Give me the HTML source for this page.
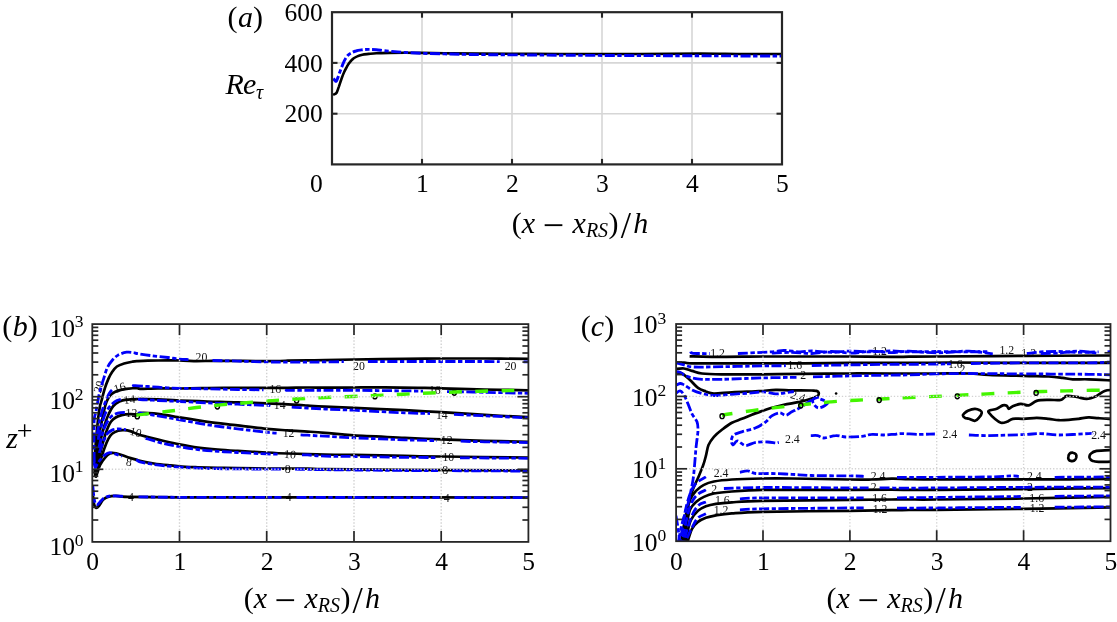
<!DOCTYPE html>
<html lang="en"><head><meta charset="utf-8"><title>Figure</title>
<style>
html,body{margin:0;padding:0;background:#fff}
svg{display:block}
text{font-family:"Liberation Serif",serif;fill:#000}
.tk{font-size:25.5px}
.lb{font-size:30px;font-style:italic}
.rm{font-style:normal}
.sub{font-size:20px}
.mn{font-size:38px}
.sl{font-size:37px}
.sup{font-size:17.5px}
.pl{font-size:28px}
.cl{font-size:11.8px;fill:#111}
.ga{stroke:#d6d6d6;stroke-width:1.6;fill:none}
.gd{stroke:#d2d2d2;stroke-width:1.4;stroke-dasharray:1.3 1.95;fill:none}
.ax{stroke:#262626;stroke-width:2.1;fill:none}
.ax2{stroke:#262626;stroke-width:1.7;fill:none}
.boxa{stroke:#262626;stroke-width:2.2;fill:none}
.boxb{stroke:#262626;stroke-width:1.8;fill:none}
.ka{stroke:#000;stroke-width:2.6;fill:none;stroke-linejoin:round;stroke-linecap:round}
.ba{stroke:#0000fa;stroke-width:2.9;fill:none;stroke-dasharray:10 2.5 4.4 2.5;stroke-linejoin:round}
.kb{stroke:#000;stroke-width:2.7;fill:none;stroke-linejoin:round}
.bb{stroke:#0000fa;stroke-width:2.8;fill:none;stroke-dasharray:10 2.5 4.4 2.5;stroke-linejoin:round}
.bd{stroke:#0000fa;stroke-width:2.8;fill:none;stroke-dasharray:8.5 3.2;stroke-linejoin:round}
.gr{stroke:#44f500;stroke-width:3.4;fill:none;stroke-dasharray:12.85 13.3}
.mk{stroke:#000;stroke-width:1.4;fill:none}
</style></head>
<body>
<svg width="1117" height="622" viewBox="0 0 1117 622">
<rect width="1117" height="622" fill="#fff"/>
<g id="pa">
<line class="ga" x1="422.0" y1="12.2" x2="422.0" y2="164.4"/>
<line class="ga" x1="512.0" y1="12.2" x2="512.0" y2="164.4"/>
<line class="ga" x1="602.0" y1="12.2" x2="602.0" y2="164.4"/>
<line class="ga" x1="692.0" y1="12.2" x2="692.0" y2="164.4"/>
<line class="ga" x1="332.0" y1="113.7" x2="782.0" y2="113.7"/>
<line class="ga" x1="332.0" y1="62.9" x2="782.0" y2="62.9"/>
<path class="ka" d="M334.0 94.3C334.4 94.1 335.8 94.1 336.6 92.8C337.4 91.5 338.0 89.0 338.9 86.6C339.7 84.2 340.8 80.7 341.7 78.2C342.6 75.8 343.4 73.7 344.3 71.8C345.2 69.9 345.9 68.3 346.9 66.7C347.8 65.0 349.0 63.2 350.1 61.9C351.2 60.5 352.1 59.5 353.3 58.6C354.5 57.6 355.7 57.0 357.2 56.4C358.7 55.7 360.4 55.2 362.3 54.8C364.2 54.4 366.4 54.2 368.7 53.9C371.1 53.7 373.0 53.5 376.4 53.3C379.9 53.1 384.6 53.0 389.3 52.9C394.0 52.8 399.4 52.8 404.7 52.8C410.1 52.8 414.8 52.8 421.5 52.9C428.1 53.0 434.9 53.2 444.6 53.3C454.4 53.4 460.8 53.5 480.0 53.6C499.2 53.7 533.3 53.9 560.0 54.0C586.7 54.1 616.7 54.1 640.0 54.0C663.3 53.9 683.3 53.6 700.0 53.6C716.7 53.6 726.5 53.9 740.0 54.0C753.5 54.1 774.2 54.0 781.0 54.0"/>
<path class="ba" d="M333.5 78.4C333.7 78.7 334.3 79.9 334.8 80.4C335.2 80.9 335.8 81.7 336.3 81.2C336.8 80.7 337.2 79.4 337.9 77.6C338.5 75.8 339.4 73.3 340.4 70.5C341.5 67.7 343.1 63.3 344.3 60.9C345.5 58.4 346.4 57.0 347.5 55.7C348.6 54.4 349.3 53.9 350.7 53.2C352.1 52.4 353.9 51.5 355.9 51.0C357.8 50.4 360.2 50.1 362.3 49.8C364.4 49.5 366.4 49.4 368.7 49.4C371.1 49.4 373.9 49.6 376.4 49.8C379.0 50.0 381.2 50.4 384.2 50.7C387.2 51.0 391.0 51.3 394.5 51.6C397.9 51.9 400.2 52.1 404.7 52.4C409.2 52.7 414.8 53.0 421.5 53.3C428.1 53.5 434.9 53.7 444.6 53.9C454.4 54.1 460.8 54.4 480.0 54.6C499.2 54.8 533.3 55.0 560.0 55.2C586.7 55.4 616.7 55.5 640.0 55.6C663.3 55.7 676.5 55.7 700.0 55.8C723.5 55.9 767.5 56.0 781.0 56.0"/>
<line class="ax" x1="422.0" y1="164.4" x2="422.0" y2="158.9"/>
<line class="ax" x1="422.0" y1="12.2" x2="422.0" y2="17.7"/>
<line class="ax" x1="512.0" y1="164.4" x2="512.0" y2="158.9"/>
<line class="ax" x1="512.0" y1="12.2" x2="512.0" y2="17.7"/>
<line class="ax" x1="602.0" y1="164.4" x2="602.0" y2="158.9"/>
<line class="ax" x1="602.0" y1="12.2" x2="602.0" y2="17.7"/>
<line class="ax" x1="692.0" y1="164.4" x2="692.0" y2="158.9"/>
<line class="ax" x1="692.0" y1="12.2" x2="692.0" y2="17.7"/>
<line class="ax" x1="332.0" y1="113.7" x2="337.5" y2="113.7"/>
<line class="ax" x1="782.0" y1="113.7" x2="776.5" y2="113.7"/>
<line class="ax" x1="332.0" y1="62.9" x2="337.5" y2="62.9"/>
<line class="ax" x1="782.0" y1="62.9" x2="776.5" y2="62.9"/>
<rect class="boxa" x="332.0" y="12.2" width="450.0" height="152.2"/>
<text class="tk" text-anchor="end" x="322.8" y="20.8">600</text>
<text class="tk" text-anchor="end" x="322.8" y="71.5">400</text>
<text class="tk" text-anchor="end" x="322.8" y="122.3">200</text>
<text class="tk" text-anchor="middle" x="316.4" y="191.8">0</text>
<text class="tk" text-anchor="middle" x="422.3" y="191.8">1</text>
<text class="tk" text-anchor="middle" x="512.3" y="191.8">2</text>
<text class="tk" text-anchor="middle" x="602.3" y="191.8">3</text>
<text class="tk" text-anchor="middle" x="692.3" y="191.8">4</text>
<text class="tk" text-anchor="middle" x="782.3" y="191.8">5</text>
</g>
<text class="lb" y="232.8"><tspan class="rm" x="511.8">(</tspan><tspan x="521.8">x</tspan><tspan x="572.6">x</tspan><tspan class="sub" x="585.9" dy="4.2">RS</tspan><tspan class="rm" x="608.5" dy="-4.2">)</tspan><tspan x="633.2">h</tspan></text>
<text class="mn" x="542.7" y="237.7">−</text>
<text class="sl" x="620.7" y="238.0">/</text>
<text class="lb" y="26.7"><tspan class="rm" x="227.6">(</tspan><tspan x="238.1">a</tspan><tspan class="rm" x="253.1">)</tspan></text>
<text class="lb" x="225.5" y="94"><tspan>R</tspan><tspan dx="-0.8">e</tspan><tspan class="sub" dy="4.6" dx="-0.3">τ</tspan></text>
<g id="pb">
<clipPath id="cb"><rect x="92.3" y="324.1" width="436.1" height="217.8"/></clipPath>
<text class="cl" text-anchor="middle" x="201.4" y="361.1">20</text>
<text class="cl" text-anchor="middle" transform="translate(99.4 387.1) rotate(-72)" y="3.2">20</text>
<text class="cl" text-anchor="middle" transform="translate(119.9 388.3) rotate(-18)" y="3.2">16</text>
<text class="cl" text-anchor="middle" transform="translate(129.5 400.3) rotate(-8)" y="3.2">14</text>
<text class="cl" text-anchor="middle" x="131.5" y="417.0">12</text>
<text class="cl" text-anchor="middle" x="275.3" y="392.7">16</text>
<text class="cl" text-anchor="middle" x="279.7" y="409.4">14</text>
<text class="cl" text-anchor="middle" x="288.6" y="437.0">12</text>
<text class="cl" text-anchor="middle" transform="translate(135.5 432.8) rotate(14)" y="3.2">10</text>
<text class="cl" text-anchor="middle" transform="translate(128.9 462.7) rotate(8)" y="3.2">8</text>
<text class="cl" text-anchor="middle" x="130.9" y="500.7">4</text>
<text class="cl" text-anchor="middle" transform="translate(290.0 455.1) rotate(5)" y="3.2">10</text>
<text class="cl" text-anchor="middle" x="287.6" y="473.3">8</text>
<text class="cl" text-anchor="middle" x="288.6" y="501.1">4</text>
<text class="cl" text-anchor="middle" x="358.9" y="370.3">20</text>
<text class="cl" text-anchor="middle" x="510.6" y="370.3">20</text>
<text class="cl" text-anchor="middle" x="434.8" y="393.5">16</text>
<text class="cl" text-anchor="middle" x="441.8" y="418.6">14</text>
<text class="cl" text-anchor="middle" x="446.7" y="443.8">12</text>
<text class="cl" text-anchor="middle" x="448.3" y="460.9">10</text>
<text class="cl" text-anchor="middle" x="445.3" y="474.3">8</text>
<text class="cl" text-anchor="middle" x="446.7" y="501.7">4</text>
<g clip-path="url(#cb)">
<path class="kb" d="M95.4 477.0C95.6 476.1 96.3 475.3 96.3 471.5C96.3 467.7 95.2 460.1 95.2 454.2C95.2 448.3 95.9 442.1 96.4 436.1C96.9 430.1 97.6 423.1 98.2 418.1C98.8 413.1 99.5 408.8 100.0 406.0C100.5 403.2 100.5 404.5 101.3 401.5C102.1 398.5 103.7 392.0 104.9 388.2C106.1 384.4 107.3 381.3 108.5 378.6C109.7 375.9 110.7 373.9 112.1 371.9C113.5 369.9 114.9 367.9 116.9 366.5C118.9 365.1 121.5 364.3 124.1 363.5C126.7 362.7 130.3 362.1 132.6 361.7C134.9 361.3 135.5 361.3 138.0 361.1C140.5 360.9 142.9 360.9 147.9 360.7C152.9 360.6 162.6 360.4 167.9 360.3C173.1 360.3 175.1 360.4 179.4 360.5C183.8 360.7 188.4 361.1 193.8 361.1C199.2 361.2 204.5 361.0 211.8 360.9C219.1 360.9 228.6 360.9 237.7 360.9C246.9 361.0 258.4 361.2 266.7 361.1C275.0 361.1 280.8 360.9 287.6 360.7C294.5 360.6 301.4 360.4 307.6 360.3C313.8 360.2 317.2 360.3 325.0 360.1C332.7 360.0 340.6 359.7 353.9 359.5C367.2 359.3 390.3 359.1 404.8 358.9C419.4 358.8 427.8 358.6 441.2 358.5C454.5 358.5 470.2 358.5 484.7 358.5C499.2 358.6 520.8 358.9 528.0 358.9"/>
<path class="kb" d="M95.4 477.0C95.6 476.1 96.2 474.3 96.3 471.5C96.4 468.7 95.6 464.5 95.8 460.2C96.0 455.9 96.9 450.8 97.6 445.8C98.3 440.8 99.2 434.7 100.0 430.1C100.8 425.5 101.6 422.2 102.5 418.1C103.4 414.1 104.2 409.2 105.2 405.8C106.2 402.4 107.3 399.8 108.5 397.8C109.7 395.8 110.5 394.8 112.1 393.6C113.7 392.4 115.7 391.4 118.1 390.6C120.5 389.8 123.3 389.2 126.6 388.8C129.9 388.4 135.8 388.0 138.0 388.0C140.2 388.0 136.6 388.8 139.9 388.9C143.2 389.0 151.3 388.5 157.9 388.5C164.5 388.4 171.1 388.5 179.4 388.5C187.8 388.4 198.1 388.2 207.8 388.1C217.5 388.0 227.9 387.9 237.7 387.9C247.5 387.8 258.4 387.9 266.7 387.9C275.0 387.9 280.8 387.9 287.6 387.9C294.5 387.8 301.4 387.5 307.6 387.5C313.8 387.4 317.2 387.7 325.0 387.7C332.7 387.7 343.9 387.5 353.9 387.5C363.9 387.4 373.0 387.2 384.9 387.3C396.7 387.3 415.4 387.7 424.8 387.9C434.2 388.0 431.2 388.0 441.2 388.3C451.1 388.5 470.2 389.1 484.7 389.5C499.2 389.8 520.8 390.1 528.0 390.3"/>
<path class="kb" d="M95.4 477.0C95.6 476.1 96.1 473.5 96.3 471.5C96.5 469.5 96.4 468.6 96.8 465.1C97.2 461.6 98.0 455.2 98.8 450.6C99.5 446.0 100.3 441.7 101.3 437.3C102.3 432.9 103.7 427.9 104.9 424.1C106.1 420.3 107.1 417.5 108.5 414.5C109.9 411.5 111.5 408.1 113.3 406.0C115.1 403.9 117.1 402.7 119.3 401.6C121.5 400.5 123.5 400.0 126.6 399.6C129.7 399.2 134.5 399.1 138.0 399.0C141.5 398.9 142.9 398.9 147.9 399.1C152.9 399.2 162.6 399.6 167.9 399.9C173.1 400.1 172.8 400.2 179.4 400.5C186.1 400.7 198.1 401.2 207.8 401.5C217.5 401.8 227.9 401.9 237.7 402.3C247.5 402.6 256.7 403.0 266.7 403.4C276.7 403.9 290.8 404.5 297.6 404.8C304.4 405.2 303.0 405.3 307.6 405.6C312.2 405.9 317.2 406.3 325.0 406.6C332.7 407.0 340.6 407.2 353.9 407.8C367.2 408.4 390.3 409.5 404.8 410.2C419.4 411.0 427.8 411.5 441.2 412.2C454.5 413.0 470.2 414.0 484.7 414.8C499.2 415.7 520.8 416.8 528.0 417.2"/>
<path class="kb" d="M95.4 477.0C95.6 476.1 96.0 473.0 96.3 471.5C96.6 470.0 96.6 470.9 97.2 468.0C97.8 465.1 98.9 458.9 100.0 454.2C101.1 449.5 102.5 444.0 103.7 439.8C104.9 435.6 106.1 431.9 107.3 428.9C108.5 425.9 109.5 423.6 110.9 421.7C112.3 419.8 113.9 418.6 115.7 417.5C117.5 416.4 119.3 415.7 121.7 415.1C124.1 414.6 127.5 414.3 130.2 414.2C132.9 414.1 136.4 414.7 138.0 414.5C139.6 414.3 137.3 413.2 139.9 413.0C142.6 412.9 149.2 413.0 153.9 413.4C158.5 413.8 163.6 414.8 167.9 415.4C172.1 416.1 172.8 416.4 179.4 417.4C186.1 418.5 198.1 420.5 207.8 421.8C217.5 423.1 227.9 424.2 237.7 425.4C247.5 426.6 258.4 428.0 266.7 428.8C275.0 429.6 280.8 429.9 287.6 430.4C294.5 430.9 301.4 431.2 307.6 431.6C313.8 432.0 317.2 432.2 325.0 432.8C332.7 433.4 340.6 434.6 353.9 435.4C367.2 436.2 390.3 437.1 404.8 437.8C419.4 438.5 427.8 438.9 441.2 439.4C454.5 439.9 470.2 440.4 484.7 440.8C499.2 441.2 520.8 441.6 528.0 441.8"/>
<path class="kb" d="M95.4 477.0C95.6 476.1 95.9 472.7 96.3 471.5C96.7 470.3 97.0 472.3 97.8 470.0C98.6 467.7 100.1 461.6 101.3 457.8C102.5 454.0 103.7 450.2 104.9 447.0C106.1 443.8 107.3 440.8 108.5 438.6C109.7 436.4 110.5 435.0 112.1 433.7C113.7 432.4 116.1 431.3 118.1 430.7C120.1 430.1 122.1 430.0 124.1 430.1C126.1 430.2 127.9 430.4 130.2 431.1C132.5 431.8 135.1 433.3 138.0 434.3C140.9 435.3 143.6 435.9 147.9 437.0C152.2 438.1 158.6 439.7 163.9 441.0C169.1 442.2 173.8 443.3 179.4 444.4C185.1 445.5 191.4 446.7 197.8 447.6C204.2 448.4 211.1 449.0 217.8 449.5C224.4 450.1 229.6 450.4 237.7 450.9C245.9 451.4 258.4 452.1 266.7 452.5C275.0 453.0 280.8 453.3 287.6 453.5C294.5 453.8 301.4 454.0 307.6 454.1C313.8 454.3 317.2 454.4 325.0 454.5C332.7 454.7 340.6 454.7 353.9 454.9C367.2 455.2 390.3 455.7 404.8 455.9C419.4 456.2 420.6 456.3 441.2 456.5C461.7 456.8 513.5 457.4 528.0 457.5"/>
<path class="kb" d="M94.5 470.0C94.7 471.1 95.1 476.1 95.6 476.5C96.1 476.9 96.7 474.5 97.4 472.6C98.1 470.7 98.8 467.6 100.0 465.1C101.2 462.6 103.3 459.7 104.9 457.8C106.5 455.9 108.2 454.4 109.7 453.6C111.2 452.8 112.3 452.9 113.9 453.0C115.5 453.1 117.0 453.5 119.3 454.2C121.6 454.9 124.7 456.2 127.8 457.2C130.9 458.2 136.0 459.6 138.0 460.2C140.0 460.8 137.3 460.4 139.9 460.9C142.6 461.5 149.2 462.8 153.9 463.5C158.5 464.2 163.6 464.7 167.9 465.1C172.1 465.6 174.4 466.0 179.4 466.3C184.4 466.7 191.4 467.0 197.8 467.3C204.2 467.6 211.1 467.8 217.8 467.9C224.4 468.0 229.6 468.0 237.7 468.1C245.9 468.2 255.0 468.4 266.7 468.5C278.3 468.6 297.9 468.6 307.6 468.7C317.3 468.8 308.8 468.9 325.0 469.1C341.2 469.3 371.0 469.7 404.8 469.9C438.7 470.1 507.5 470.4 528.0 470.5"/>
<path class="kb" d="M93.0 495.9C93.2 497.2 93.5 501.9 94.0 503.8C94.5 505.8 95.2 507.5 96.0 507.8C96.8 508.2 97.8 507.2 99.0 505.8C100.1 504.5 101.5 501.4 103.0 499.9C104.5 498.4 105.8 497.5 108.0 496.9C110.1 496.2 112.6 495.9 115.9 495.9C119.3 495.9 117.3 496.6 127.9 496.9C138.5 497.1 149.5 497.2 179.4 497.3C209.4 497.3 283.3 497.3 307.6 497.3C331.9 497.3 288.2 497.2 325.0 497.3C361.7 497.3 494.2 497.4 528.0 497.5"/>
<path class="bb" d="M94.3 462.0C94.2 458.3 94.0 447.0 94.0 440.0C94.0 433.0 93.9 424.6 94.2 420.0C94.5 415.4 95.2 415.2 95.8 412.3C96.4 409.4 96.9 406.3 97.6 402.7C98.3 399.1 99.0 394.6 100.0 390.6C101.0 386.6 102.5 382.4 103.7 378.6C104.9 374.8 105.9 370.7 107.3 367.7C108.7 364.7 110.3 362.6 112.1 360.5C113.9 358.4 115.7 356.5 118.1 355.1C120.5 353.7 124.0 352.6 126.6 352.2C129.2 351.8 131.9 352.4 133.8 352.7C135.7 352.9 135.0 353.2 138.0 353.7C141.0 354.2 146.9 355.1 151.9 355.7C156.9 356.4 163.3 357.0 167.9 357.5C172.4 358.1 176.0 358.8 179.4 359.1C182.9 359.5 187.0 359.5 188.5 359.6"/>
<path class="bb" d="M212.5 360.5C216.7 360.6 228.7 360.9 237.7 361.1C246.8 361.4 258.4 361.8 266.7 361.9C275.0 362.1 280.8 362.1 287.6 362.1C294.5 362.2 301.4 362.2 307.6 362.1C313.8 362.1 318.9 362.0 325.0 361.9C331.0 361.8 340.7 361.7 343.8 361.7"/>
<path class="bb" d="M367.9 361.5C374.1 361.5 392.6 361.5 404.8 361.5C417.0 361.5 427.8 361.5 441.2 361.5C454.5 361.5 474.9 361.5 484.7 361.5C494.4 361.5 497.2 361.6 499.7 361.7"/>
<path class="bb" d="M523.6 361.9C524.3 361.9 527.3 361.9 528.0 361.9"/>
<path class="bb" d="M97.0 436.1C97.4 433.7 98.5 426.1 99.4 421.7C100.3 417.3 101.5 412.9 102.5 409.6C103.5 406.3 104.5 404.3 105.4 402.0C106.3 399.7 107.0 397.7 107.8 396.0C108.6 394.3 109.4 393.0 110.3 391.8C111.2 390.6 112.5 389.5 113.0 389.0C113.5 388.5 113.0 389.0 113.0 389.0"/>
<path class="bb" d="M133.5 385.6C133.5 385.6 132.8 385.6 133.5 385.6C134.2 385.6 135.6 385.7 138.0 385.8C140.4 385.9 142.9 386.1 147.9 386.5C152.9 386.8 162.6 387.6 167.9 387.9C173.1 388.2 172.8 388.1 179.4 388.3C186.1 388.4 198.1 388.7 207.8 388.9C217.5 389.1 228.4 389.3 237.7 389.5C247.0 389.6 259.2 389.8 263.5 389.8"/>
<path class="bb" d="M287.5 390.3C287.5 390.3 284.3 390.3 287.6 390.3C291.0 390.3 301.4 390.3 307.6 390.3C313.8 390.3 317.2 390.3 325.0 390.3C332.7 390.3 340.6 390.2 353.9 390.3C367.2 390.4 393.3 390.7 404.8 390.9C416.3 391.0 420.0 391.1 423.0 391.2"/>
<path class="bb" d="M447.0 391.6C453.3 391.7 471.2 392.0 484.7 392.3C498.2 392.6 520.8 393.1 528.0 393.3"/>
<path class="bb" d="M98.2 439.8C98.7 437.6 100.2 430.7 101.3 426.5C102.4 422.3 103.7 417.5 104.9 414.5C106.1 411.5 107.1 410.1 108.3 408.4C109.5 406.6 110.7 405.3 112.1 404.0C113.5 402.7 115.2 401.4 116.9 400.6C118.6 399.8 121.2 399.3 122.0 399.0C122.8 398.7 122.0 399.0 122.0 399.0"/>
<path class="bb" d="M138.0 399.4C138.0 399.4 137.7 399.4 138.0 399.4C138.3 399.4 136.6 399.3 139.9 399.5C143.2 399.6 151.3 400.1 157.9 400.5C164.5 400.8 171.1 401.1 179.4 401.5C187.8 401.9 198.1 402.4 207.8 402.9C217.5 403.3 227.9 403.8 237.7 404.2C247.5 404.7 261.7 405.2 266.7 405.4C271.7 405.7 267.5 405.5 267.7 405.5"/>
<path class="bb" d="M291.7 407.1C294.4 407.2 302.1 407.7 307.6 408.0C313.1 408.4 317.2 408.7 325.0 409.0C332.7 409.4 340.6 409.6 353.9 410.2C367.2 410.9 392.1 412.3 404.8 412.8C417.5 413.4 425.8 413.4 430.0 413.5"/>
<path class="bb" d="M454.0 414.4C459.1 414.7 472.3 415.3 484.7 415.8C497.0 416.4 520.8 417.5 528.0 417.8"/>
<path class="bb" d="M98.8 448.2C99.4 445.8 101.3 437.7 102.5 433.7C103.7 429.7 104.7 426.9 106.1 424.1C107.5 421.3 109.3 418.6 110.9 416.9C112.5 415.2 114.1 414.6 115.7 413.9C117.3 413.2 119.0 412.9 120.5 412.7C122.0 412.5 124.2 412.5 125.0 412.5C125.8 412.5 125.0 412.5 125.0 412.5"/>
<path class="bb" d="M138.0 413.2C138.0 413.2 137.7 413.3 138.0 413.2C138.3 413.1 138.3 412.7 139.9 412.8C141.6 413.0 144.9 413.7 147.9 414.2C150.9 414.7 152.6 414.9 157.9 415.8C163.1 416.8 171.1 418.3 179.4 419.8C187.8 421.3 198.1 423.3 207.8 424.8C217.5 426.3 227.9 427.6 237.7 428.8C247.5 430.0 260.2 431.5 266.7 432.2C273.2 432.9 274.9 433.0 276.6 433.1"/>
<path class="bb" d="M300.6 434.8C301.8 434.9 303.5 435.0 307.6 435.2C311.7 435.4 317.2 435.8 325.0 436.2C332.7 436.6 340.6 437.2 353.9 437.8C367.2 438.4 391.0 439.3 404.8 439.8C418.6 440.3 431.5 440.5 436.8 440.7"/>
<path class="bb" d="M460.7 441.2C464.7 441.3 473.5 441.6 484.7 441.8C495.9 442.0 520.8 442.4 528.0 442.6"/>
<path class="bb" d="M99.4 453.0C99.5 452.6 99.3 452.6 100.0 450.6C100.7 448.6 102.5 443.8 103.7 441.0C104.9 438.2 105.9 435.5 107.3 433.7C108.7 431.9 110.3 430.9 112.1 430.1C113.9 429.3 116.3 429.0 118.1 428.9C119.9 428.8 121.6 429.1 122.9 429.3C124.2 429.5 125.5 429.7 126.0 429.8C126.5 429.9 126.0 429.8 126.0 429.8"/>
<path class="bb" d="M146.0 437.9C146.3 438.1 144.9 438.0 147.9 439.0C150.9 439.9 158.6 442.3 163.9 443.6C169.1 444.8 173.8 445.6 179.4 446.6C185.1 447.6 191.4 448.7 197.8 449.5C204.2 450.3 211.1 450.8 217.8 451.3C224.4 451.8 229.6 452.1 237.7 452.5C245.9 453.0 260.0 453.7 266.7 453.9C273.4 454.2 276.1 454.1 278.0 454.2"/>
<path class="bb" d="M302.0 454.8C302.9 454.8 303.8 454.7 307.6 454.9C311.4 455.2 317.2 455.9 325.0 456.1C332.7 456.4 340.6 456.3 353.9 456.5C367.2 456.7 391.1 457.2 404.8 457.3C418.5 457.5 430.8 457.5 436.0 457.6"/>
<path class="bb" d="M460.0 457.8C471.3 457.9 516.7 458.2 528.0 458.3"/>
<path class="bb" d="M94.0 462.0C94.2 462.9 94.7 467.1 95.2 467.5C95.7 467.9 96.4 465.4 97.2 464.2C98.0 463.0 98.7 461.8 100.0 460.2C101.3 458.6 103.3 456.1 104.9 454.8C106.5 453.6 107.9 452.8 109.7 452.7C111.5 452.6 113.7 453.6 115.7 454.2C117.8 454.8 121.0 455.9 122.0 456.3"/>
<path class="bb" d="M136.0 460.1C136.3 460.2 137.3 460.3 138.0 460.6C138.7 460.9 137.3 461.3 139.9 461.9C142.6 462.6 149.2 463.8 153.9 464.5C158.5 465.2 163.6 465.7 167.9 466.1C172.1 466.5 174.4 466.8 179.4 467.1C184.4 467.4 191.4 467.8 197.8 468.1C204.2 468.4 211.1 468.6 217.8 468.7C224.4 468.8 229.6 468.8 237.7 468.9C245.9 469.0 259.5 469.1 266.7 469.1C273.9 469.2 278.6 469.2 281.0 469.2"/>
<path class="bb" d="M295.0 469.2C297.1 469.3 302.6 469.2 307.6 469.3C312.6 469.4 308.8 469.5 325.0 469.7C341.2 469.9 386.0 470.3 404.8 470.5C423.7 470.7 432.5 470.6 438.0 470.7"/>
<path class="bb" d="M452.0 470.7C464.7 470.8 515.3 471.0 528.0 471.1"/>
<path class="bb" d="M92.8 485.9C93.0 487.9 93.5 494.9 94.0 497.9C94.5 500.9 94.9 502.8 95.6 503.8C96.3 504.9 97.1 504.7 98.0 504.2C98.9 503.7 99.8 502.0 101.0 500.9C102.1 499.7 103.1 498.3 105.0 497.5C106.8 496.6 108.9 496.0 112.0 495.9C115.0 495.7 121.6 496.3 123.5 496.4"/>
<path class="bb" d="M138.5 496.8C145.3 496.9 155.6 497.2 179.4 497.3C203.3 497.4 264.5 497.4 281.5 497.4"/>
<path class="bb" d="M296.5 497.4C298.4 497.4 302.9 497.5 307.6 497.5C312.3 497.5 303.0 497.4 325.0 497.5C346.9 497.5 420.4 497.6 439.5 497.6"/>
<path class="bb" d="M454.5 497.6C466.7 497.6 515.7 497.6 528.0 497.7"/>
<ellipse class="mk" cx="137.3" cy="416.4" rx="2.1" ry="2.4"/>
<ellipse class="mk" cx="217.4" cy="406.6" rx="2.1" ry="2.4"/>
<ellipse class="mk" cx="296.6" cy="400.6" rx="2.1" ry="2.4"/>
<ellipse class="mk" cx="374.9" cy="396.4" rx="2.1" ry="2.4"/>
<ellipse class="mk" cx="454.3" cy="392.8" rx="2.1" ry="2.4"/>
<path class="gr" d="M136.3 415.2C137.3 415.1 137.1 415.0 142.5 414.4C147.9 413.8 159.8 412.4 168.5 411.3C177.2 410.2 185.8 408.9 194.5 407.8C203.2 406.7 211.8 405.8 220.4 404.9C229.1 404.0 237.8 403.4 246.4 402.7C255.1 402.0 263.7 401.2 272.3 400.6C280.9 400.0 289.6 399.4 298.3 398.9C307.0 398.4 315.4 398.0 324.3 397.6C333.2 397.2 342.6 396.9 351.5 396.5C360.4 396.1 368.8 395.8 377.4 395.4C386.0 395.0 394.7 394.6 403.4 394.2C412.1 393.8 420.8 393.4 429.4 393.0C438.0 392.6 446.6 392.3 455.3 392.0C464.0 391.7 473.0 391.4 481.8 391.2C490.6 391.0 500.6 390.8 508.2 390.6C515.8 390.4 524.3 390.3 527.5 390.2"/>
</g>
<line class="gd" x1="179.5" y1="324.1" x2="179.5" y2="541.9"/>
<line class="gd" x1="266.7" y1="324.1" x2="266.7" y2="541.9"/>
<line class="gd" x1="354.0" y1="324.1" x2="354.0" y2="541.9"/>
<line class="gd" x1="441.2" y1="324.1" x2="441.2" y2="541.9"/>
<line class="gd" x1="92.3" y1="469.3" x2="528.4" y2="469.3"/>
<line class="gd" x1="92.3" y1="396.7" x2="528.4" y2="396.7"/>
<line class="ax2" x1="179.5" y1="541.9" x2="179.5" y2="530.9"/>
<line class="ax2" x1="179.5" y1="324.1" x2="179.5" y2="335.1"/>
<line class="ax2" x1="266.7" y1="541.9" x2="266.7" y2="530.9"/>
<line class="ax2" x1="266.7" y1="324.1" x2="266.7" y2="335.1"/>
<line class="ax2" x1="354.0" y1="541.9" x2="354.0" y2="530.9"/>
<line class="ax2" x1="354.0" y1="324.1" x2="354.0" y2="335.1"/>
<line class="ax2" x1="441.2" y1="541.9" x2="441.2" y2="530.9"/>
<line class="ax2" x1="441.2" y1="324.1" x2="441.2" y2="335.1"/>
<line class="ax2" x1="92.3" y1="520.0" x2="98.3" y2="520.0"/>
<line class="ax2" x1="528.4" y1="520.0" x2="522.4" y2="520.0"/>
<line class="ax2" x1="92.3" y1="507.3" x2="98.3" y2="507.3"/>
<line class="ax2" x1="528.4" y1="507.3" x2="522.4" y2="507.3"/>
<line class="ax2" x1="92.3" y1="498.2" x2="98.3" y2="498.2"/>
<line class="ax2" x1="528.4" y1="498.2" x2="522.4" y2="498.2"/>
<line class="ax2" x1="92.3" y1="491.2" x2="98.3" y2="491.2"/>
<line class="ax2" x1="528.4" y1="491.2" x2="522.4" y2="491.2"/>
<line class="ax2" x1="92.3" y1="485.4" x2="98.3" y2="485.4"/>
<line class="ax2" x1="528.4" y1="485.4" x2="522.4" y2="485.4"/>
<line class="ax2" x1="92.3" y1="480.5" x2="98.3" y2="480.5"/>
<line class="ax2" x1="528.4" y1="480.5" x2="522.4" y2="480.5"/>
<line class="ax2" x1="92.3" y1="476.3" x2="98.3" y2="476.3"/>
<line class="ax2" x1="528.4" y1="476.3" x2="522.4" y2="476.3"/>
<line class="ax2" x1="92.3" y1="472.6" x2="98.3" y2="472.6"/>
<line class="ax2" x1="528.4" y1="472.6" x2="522.4" y2="472.6"/>
<line class="ax2" x1="92.3" y1="469.3" x2="103.3" y2="469.3"/>
<line class="ax2" x1="528.4" y1="469.3" x2="517.4" y2="469.3"/>
<line class="ax2" x1="92.3" y1="447.4" x2="98.3" y2="447.4"/>
<line class="ax2" x1="528.4" y1="447.4" x2="522.4" y2="447.4"/>
<line class="ax2" x1="92.3" y1="434.7" x2="98.3" y2="434.7"/>
<line class="ax2" x1="528.4" y1="434.7" x2="522.4" y2="434.7"/>
<line class="ax2" x1="92.3" y1="425.6" x2="98.3" y2="425.6"/>
<line class="ax2" x1="528.4" y1="425.6" x2="522.4" y2="425.6"/>
<line class="ax2" x1="92.3" y1="418.6" x2="98.3" y2="418.6"/>
<line class="ax2" x1="528.4" y1="418.6" x2="522.4" y2="418.6"/>
<line class="ax2" x1="92.3" y1="412.8" x2="98.3" y2="412.8"/>
<line class="ax2" x1="528.4" y1="412.8" x2="522.4" y2="412.8"/>
<line class="ax2" x1="92.3" y1="407.9" x2="98.3" y2="407.9"/>
<line class="ax2" x1="528.4" y1="407.9" x2="522.4" y2="407.9"/>
<line class="ax2" x1="92.3" y1="403.7" x2="98.3" y2="403.7"/>
<line class="ax2" x1="528.4" y1="403.7" x2="522.4" y2="403.7"/>
<line class="ax2" x1="92.3" y1="400.0" x2="98.3" y2="400.0"/>
<line class="ax2" x1="528.4" y1="400.0" x2="522.4" y2="400.0"/>
<line class="ax2" x1="92.3" y1="396.7" x2="103.3" y2="396.7"/>
<line class="ax2" x1="528.4" y1="396.7" x2="517.4" y2="396.7"/>
<line class="ax2" x1="92.3" y1="374.8" x2="98.3" y2="374.8"/>
<line class="ax2" x1="528.4" y1="374.8" x2="522.4" y2="374.8"/>
<line class="ax2" x1="92.3" y1="362.1" x2="98.3" y2="362.1"/>
<line class="ax2" x1="528.4" y1="362.1" x2="522.4" y2="362.1"/>
<line class="ax2" x1="92.3" y1="353.0" x2="98.3" y2="353.0"/>
<line class="ax2" x1="528.4" y1="353.0" x2="522.4" y2="353.0"/>
<line class="ax2" x1="92.3" y1="346.0" x2="98.3" y2="346.0"/>
<line class="ax2" x1="528.4" y1="346.0" x2="522.4" y2="346.0"/>
<line class="ax2" x1="92.3" y1="340.2" x2="98.3" y2="340.2"/>
<line class="ax2" x1="528.4" y1="340.2" x2="522.4" y2="340.2"/>
<line class="ax2" x1="92.3" y1="335.3" x2="98.3" y2="335.3"/>
<line class="ax2" x1="528.4" y1="335.3" x2="522.4" y2="335.3"/>
<line class="ax2" x1="92.3" y1="331.1" x2="98.3" y2="331.1"/>
<line class="ax2" x1="528.4" y1="331.1" x2="522.4" y2="331.1"/>
<line class="ax2" x1="92.3" y1="327.4" x2="98.3" y2="327.4"/>
<line class="ax2" x1="528.4" y1="327.4" x2="522.4" y2="327.4"/>
<rect class="boxb" x="92.3" y="324.1" width="436.1" height="217.8"/>
<text class="tk" x="49.5" y="555.3">10<tspan class="sup" dy="-9.4" dx="-0.2">0</tspan></text>
<text class="tk" x="49.5" y="481.7">10<tspan class="sup" dy="-9.4" dx="-0.2">1</tspan></text>
<text class="tk" x="49.5" y="409.1">10<tspan class="sup" dy="-9.4" dx="-0.2">2</tspan></text>
<text class="tk" x="49.5" y="336.5">10<tspan class="sup" dy="-9.4" dx="-0.2">3</tspan></text>
<text class="tk" text-anchor="middle" x="92.6" y="570.4">0</text>
<text class="tk" text-anchor="middle" x="179.8" y="570.4">1</text>
<text class="tk" text-anchor="middle" x="267.0" y="570.4">2</text>
<text class="tk" text-anchor="middle" x="354.3" y="570.4">3</text>
<text class="tk" text-anchor="middle" x="441.5" y="570.4">4</text>
<text class="tk" text-anchor="middle" x="528.7" y="570.4">5</text>
</g>
<text class="lb" y="336.2"><tspan class="rm" x="2.2">(</tspan><tspan x="12.7">b</tspan><tspan class="rm" x="27.7">)</tspan></text>
<text class="lb" x="6.2" y="447.6">z</text>
<text class="pl" x="16.8" y="439.6">+</text>
<text class="lb" y="608.1"><tspan class="rm" x="243.7">(</tspan><tspan x="253.7">x</tspan><tspan x="304.5">x</tspan><tspan class="sub" x="317.8" dy="4.2">RS</tspan><tspan class="rm" x="340.4" dy="-4.2">)</tspan><tspan x="365.1">h</tspan></text>
<text class="mn" x="274.6" y="613.0">−</text>
<text class="sl" x="352.6" y="613.3">/</text>
<g id="pc">
<clipPath id="cc"><rect x="676.1" y="324.0" width="434.4" height="217.2"/></clipPath>
<text class="cl" text-anchor="middle" x="717.5" y="357.1">1.2</text>
<text class="cl" text-anchor="middle" x="794.8" y="369.1">1.6</text>
<text class="cl" text-anchor="middle" x="803.2" y="379.1">2</text>
<text class="cl" text-anchor="middle" transform="translate(797.8 396.9) rotate(18)" y="3.2">2.4</text>
<text class="cl" text-anchor="middle" x="879.6" y="355.1">1.2</text>
<text class="cl" text-anchor="middle" x="792.4" y="443.2">2.4</text>
<text class="cl" text-anchor="middle" x="721.1" y="477.3">2.4</text>
<text class="cl" text-anchor="middle" x="714.3" y="493.1">2</text>
<text class="cl" text-anchor="middle" x="722.3" y="503.9">1.6</text>
<text class="cl" text-anchor="middle" x="721.1" y="514.0">1.2</text>
<text class="cl" text-anchor="middle" x="878.0" y="480.1">2.4</text>
<text class="cl" text-anchor="middle" x="873.6" y="491.1">2</text>
<text class="cl" text-anchor="middle" x="879.6" y="502.3">1.6</text>
<text class="cl" text-anchor="middle" x="880.0" y="513.0">1.2</text>
<text class="cl" text-anchor="middle" x="1006.8" y="354.1">1.2</text>
<text class="cl" text-anchor="middle" x="1028.7" y="357.1">1.2</text>
<text class="cl" text-anchor="middle" x="955.3" y="368.1">1.6</text>
<text class="cl" text-anchor="middle" x="962.5" y="373.1">2</text>
<text class="cl" text-anchor="middle" x="949.9" y="438.0">2.4</text>
<text class="cl" text-anchor="middle" x="1098.6" y="439.0">2.4</text>
<text class="cl" text-anchor="middle" x="1034.3" y="480.3">2.4</text>
<text class="cl" text-anchor="middle" x="1029.9" y="490.7">2</text>
<text class="cl" text-anchor="middle" x="1036.7" y="501.9">1.6</text>
<text class="cl" text-anchor="middle" x="1037.1" y="512.2">1.2</text>
<g clip-path="url(#cc)">
<path class="kb" d="M689.6 356.3C693.3 356.4 699.7 356.9 711.9 356.9C724.1 357.0 746.2 356.6 762.8 356.5C779.5 356.5 797.3 356.5 811.7 356.5C826.2 356.5 836.4 356.5 849.7 356.5C863.0 356.6 881.7 356.9 891.6 356.9C901.5 357.0 901.5 356.8 909.0 356.7C916.4 356.7 917.4 356.7 936.5 356.5C955.6 356.4 994.5 356.1 1023.8 355.9C1053.0 355.8 1097.3 355.6 1112.0 355.5"/>
<path class="kb" d="M675.0 363.1C676.5 363.0 681.2 362.5 684.0 362.5C686.8 362.6 684.0 363.2 692.0 363.3C699.9 363.5 720.1 363.3 731.9 363.3C743.7 363.3 750.9 363.3 762.8 363.3C774.8 363.3 789.3 363.4 803.8 363.3C818.2 363.3 835.0 363.0 849.7 362.9C864.3 362.9 881.7 362.9 891.6 362.9C901.5 362.9 899.4 363.0 909.0 362.9C918.5 362.9 929.8 362.5 948.9 362.5C968.0 362.5 996.6 362.9 1023.8 362.9C1050.9 363.0 1097.3 362.9 1112.0 362.9"/>
<path class="kb" d="M675.0 369.1C676.5 369.0 681.2 368.2 684.0 368.5C686.8 368.8 689.0 370.1 692.0 370.9C695.0 371.7 697.0 372.9 701.9 373.5C706.9 374.1 711.8 374.2 721.9 374.3C732.1 374.4 749.9 374.4 762.8 374.3C775.8 374.2 785.3 374.0 799.8 373.9C814.2 373.8 834.4 373.6 849.7 373.5C865.0 373.4 881.7 373.5 891.6 373.5C901.5 373.5 901.5 373.5 909.0 373.5C916.4 373.5 926.5 373.5 936.5 373.5C946.5 373.5 960.1 373.3 968.9 373.5C977.6 373.7 979.7 374.5 988.8 374.9C998.0 375.3 1013.8 375.6 1023.8 375.9C1033.7 376.2 1042.2 376.2 1048.7 376.5C1055.2 376.8 1058.7 377.4 1062.7 377.9C1066.7 378.4 1068.3 379.1 1072.7 379.3C1077.0 379.5 1082.1 379.1 1088.6 379.3C1095.2 379.5 1108.1 380.3 1112.0 380.5"/>
<path class="kb" d="M675.0 372.3C676.2 372.5 679.5 372.2 682.0 373.5C684.5 374.8 687.3 377.5 690.0 379.9C692.6 382.3 695.3 385.9 698.0 387.9C700.6 389.8 703.3 390.5 705.9 391.5C708.6 392.4 709.6 393.3 713.9 393.5C718.3 393.6 725.6 392.6 731.9 392.3C738.2 391.9 746.7 391.7 751.9 391.5C757.0 391.2 758.8 391.1 762.8 390.9C766.8 390.6 771.0 390.0 775.8 389.9C780.6 389.8 785.8 390.2 791.8 390.3C797.8 390.4 807.6 390.4 811.7 390.5C815.9 390.6 815.6 390.5 816.7 390.9C817.9 391.3 818.6 392.0 818.7 392.9C818.9 393.7 818.9 394.9 817.7 395.9C816.6 396.8 814.7 397.5 811.7 398.5C808.8 399.5 804.4 400.8 799.8 401.9C795.1 402.9 788.5 403.8 783.8 404.8C779.1 405.8 775.3 406.8 771.8 407.8C768.3 408.8 766.2 409.7 762.8 410.8C759.5 412.0 755.3 413.5 751.9 414.8C748.4 416.2 745.2 417.5 741.9 418.8C738.5 420.2 735.2 421.0 731.9 422.8C728.6 424.6 724.9 427.5 721.9 429.8C718.9 432.1 716.2 434.3 713.9 436.8C711.7 439.3 709.9 441.8 708.5 445.0C707.2 448.1 706.9 452.4 705.9 455.9C705.0 459.4 704.3 462.3 702.9 465.9C701.6 469.6 699.8 473.6 698.0 477.9C696.1 482.2 693.7 486.9 692.0 491.9C690.2 496.9 688.9 502.2 687.6 507.8C686.2 513.5 685.1 519.8 684.0 525.8C682.9 531.8 681.5 540.8 681.0 543.8"/>
<path class="kb" d="M682.0 543.8C682.5 539.8 683.6 527.1 685.0 519.8C686.3 512.5 688.1 504.7 690.0 499.9C691.8 495.0 693.6 493.4 696.0 490.9C698.3 488.4 700.9 486.4 703.9 484.9C706.9 483.3 709.3 482.4 713.9 481.5C718.6 480.6 723.7 480.0 731.9 479.5C740.0 479.0 752.9 478.7 762.8 478.5C772.8 478.3 777.3 478.3 791.8 478.5C806.3 478.7 836.4 479.3 849.7 479.5C863.0 479.7 864.7 479.6 871.6 479.5C878.6 479.4 885.4 478.8 891.6 478.7C897.8 478.6 901.5 479.0 909.0 479.1C916.4 479.2 923.2 479.3 936.5 479.3C949.8 479.3 974.3 479.3 988.8 479.3C1003.4 479.3 1010.4 479.3 1023.8 479.3C1037.1 479.3 1054.0 479.4 1068.7 479.3C1083.4 479.2 1104.8 479.0 1112.0 478.9"/>
<path class="kb" d="M683.6 543.8C684.0 540.8 685.3 531.5 686.4 525.8C687.4 520.2 688.4 513.8 690.0 509.8C691.6 505.8 693.6 504.0 696.0 501.9C698.3 499.7 700.9 498.3 703.9 496.9C706.9 495.5 709.3 494.4 713.9 493.5C718.6 492.6 723.7 492.1 731.9 491.5C740.0 490.9 752.9 490.1 762.8 489.9C772.8 489.6 777.3 489.9 791.8 489.9C806.3 489.9 833.0 489.9 849.7 489.9C866.3 489.8 881.7 489.7 891.6 489.7C901.5 489.7 901.5 489.8 909.0 489.9C916.4 489.9 917.4 490.0 936.5 489.9C955.6 489.7 994.5 489.4 1023.8 489.1C1053.0 488.8 1097.3 488.2 1112.0 488.1"/>
<path class="kb" d="M685.0 543.8C685.5 541.4 687.0 533.8 688.0 529.8C689.0 525.8 689.3 523.0 691.0 519.8C692.6 516.7 695.5 513.1 698.0 510.8C700.4 508.6 702.9 507.4 705.9 506.2C708.9 505.1 711.6 504.5 715.9 503.8C720.2 503.2 724.1 502.8 731.9 502.3C739.7 501.8 743.2 501.3 762.8 500.9C782.5 500.5 828.2 500.1 849.7 499.9C871.1 499.6 881.7 499.5 891.6 499.5C901.5 499.4 901.5 499.5 909.0 499.5C916.4 499.5 917.4 499.6 936.5 499.5C955.6 499.3 994.5 498.9 1023.8 498.5C1053.0 498.0 1097.3 497.1 1112.0 496.9"/>
<path class="kb" d="M687.0 543.8C687.8 541.3 690.1 532.5 692.0 528.8C693.8 525.1 695.6 523.6 698.0 521.8C700.3 520.0 702.9 518.9 705.9 517.8C708.9 516.8 711.6 516.2 715.9 515.4C720.2 514.7 724.1 514.0 731.9 513.4C739.7 512.8 743.2 512.3 762.8 511.8C782.5 511.4 828.2 511.1 849.7 510.8C871.1 510.6 881.7 510.4 891.6 510.2C901.5 510.1 901.5 510.1 909.0 510.0C916.4 510.0 917.4 510.0 936.5 509.8C955.6 509.6 994.5 509.2 1023.8 508.8C1053.0 508.4 1097.3 507.7 1112.0 507.4"/>
<path class="kb" d="M963.9 413.8C964.7 413.1 966.0 411.7 967.9 410.8C969.7 410.0 972.8 408.9 974.8 408.8C976.8 408.7 978.7 409.6 979.8 410.2C981.0 410.9 982.0 411.6 981.8 412.8C981.7 414.1 980.0 416.5 978.8 417.8C977.7 419.2 976.5 420.7 974.8 420.8C973.2 421.0 970.5 419.3 968.9 418.8C967.2 418.3 965.9 418.4 964.9 417.8C963.9 417.3 963.0 416.1 962.9 415.4C962.7 414.8 963.0 414.6 963.9 413.8Z"/>
<path class="kb" d="M1113.6 389.9C1112.1 390.0 1107.4 389.9 1104.6 390.9C1101.8 391.9 1099.6 394.5 1096.6 395.9C1093.6 397.2 1090.0 398.7 1086.6 398.9C1083.3 399.0 1080.0 397.4 1076.7 396.9C1073.3 396.4 1069.3 395.4 1066.7 395.9C1064.0 396.4 1063.7 399.2 1060.7 399.9C1057.7 400.5 1052.7 399.7 1048.7 399.9C1044.7 400.0 1040.1 399.9 1036.7 400.9C1033.4 401.8 1031.4 404.9 1028.7 405.4C1026.1 405.9 1023.4 403.7 1020.8 403.8C1018.1 404.0 1014.8 405.4 1012.8 406.2C1010.8 407.1 1009.8 408.9 1008.8 408.8C1007.8 408.8 1007.8 406.4 1006.8 405.8C1005.8 405.3 1004.5 404.9 1002.8 405.4C1001.1 405.9 999.1 407.9 996.8 408.8C994.5 409.7 990.0 410.0 988.8 410.8C987.7 411.7 988.8 412.5 989.8 413.8C990.8 415.2 993.0 417.3 994.8 418.8C996.6 420.3 998.8 422.3 1000.8 422.8C1002.8 423.3 1004.8 422.5 1006.8 421.8C1008.8 421.2 1009.9 419.3 1012.8 418.8C1015.6 418.3 1019.8 419.0 1023.8 418.8C1027.8 418.7 1032.6 417.8 1036.7 417.8C1040.9 417.8 1045.1 418.4 1048.7 418.8C1052.4 419.2 1055.4 420.1 1058.7 420.2C1062.0 420.4 1065.3 420.1 1068.7 419.8C1072.0 419.6 1075.3 419.2 1078.7 418.8C1082.0 418.4 1085.3 417.5 1088.6 417.4C1092.0 417.3 1094.5 417.9 1098.6 418.2C1102.8 418.5 1111.1 419.1 1113.6 419.2"/>
<path class="kb" d="M1068.3 456.9C1068.4 455.9 1068.9 454.2 1069.7 453.5C1070.4 452.8 1071.6 452.6 1072.7 452.7C1073.7 452.9 1075.3 453.5 1075.9 454.3C1076.5 455.1 1076.5 456.5 1076.3 457.5C1076.0 458.6 1075.2 460.0 1074.3 460.5C1073.3 461.1 1071.6 461.1 1070.7 460.9C1069.7 460.8 1069.1 460.2 1068.7 459.5C1068.3 458.9 1068.1 457.9 1068.3 456.9Z"/>
<path class="kb" d="M1113.6 449.9C1110.8 450.1 1100.5 450.3 1096.6 450.9C1092.8 451.6 1091.8 452.8 1090.6 453.9C1089.5 455.1 1089.3 456.8 1089.6 457.9C1090.0 459.1 1091.1 460.3 1092.6 460.9C1094.1 461.6 1095.1 461.8 1098.6 461.9C1102.1 462.0 1111.1 461.6 1113.6 461.5"/>
<circle cx="836.1" cy="393.5" r="1.3" fill="#000"/>
<path class="bb" d="M691.0 351.5C691.1 351.8 690.1 352.8 692.0 353.1C693.8 353.5 699.0 353.5 701.9 353.5C704.9 353.6 708.6 353.5 709.9 353.5"/>
<path class="bb" d="M737.9 353.5C742.0 353.3 756.5 352.7 762.8 352.3C769.2 352.0 772.3 351.9 775.8 351.5C779.3 351.2 779.8 350.3 783.8 350.3C787.8 350.4 795.1 351.8 799.8 351.9C804.4 352.0 806.4 350.9 811.7 350.9C817.1 351.0 825.4 352.3 831.7 352.3C838.0 352.4 843.0 351.2 849.7 351.1C856.3 351.1 864.7 352.0 871.6 351.9C878.6 351.9 885.4 350.9 891.6 350.9C897.8 350.9 901.5 351.8 909.0 351.9C916.4 352.0 926.5 351.5 936.5 351.5C946.5 351.5 960.1 351.9 968.9 351.9C977.6 351.9 985.5 351.6 988.8 351.5"/>
<path class="bb" d="M771.8 353.1C775.1 353.0 785.1 352.3 791.8 352.3C798.4 352.4 805.1 353.7 811.7 353.5C818.4 353.4 825.1 351.6 831.7 351.5C838.4 351.5 845.0 353.2 851.7 353.1C858.3 353.1 865.0 351.2 871.6 351.1C878.3 351.1 885.4 352.7 891.6 352.7C897.8 352.7 901.5 351.1 909.0 351.1C916.4 351.2 926.5 352.9 936.5 352.9C946.5 352.9 959.5 351.0 968.9 351.1C978.2 351.3 988.8 353.5 992.8 353.9"/>
<path class="bb" d="M1026.8 353.5C1029.1 353.3 1035.4 352.3 1040.7 351.9C1046.1 351.6 1052.4 351.5 1058.7 351.5C1065.0 351.6 1072.0 352.3 1078.7 352.3C1085.3 352.4 1095.3 352.0 1098.6 351.9"/>
<path class="bb" d="M1040.7 353.5C1043.7 353.5 1052.4 353.5 1058.7 353.1C1065.0 352.7 1072.0 351.1 1078.7 351.1C1085.3 351.2 1095.3 353.1 1098.6 353.5"/>
<path class="bb" d="M1107.6 351.9C1108.3 351.8 1111.3 351.3 1112.0 351.1"/>
<path class="bb" d="M675.0 362.5C676.5 362.9 681.2 364.2 684.0 364.9C686.8 365.7 687.3 366.6 692.0 366.9C696.6 367.2 700.1 367.1 711.9 366.9C723.7 366.7 750.5 366.1 762.8 365.9C775.1 365.7 782.0 365.8 785.8 365.7"/>
<path class="bb" d="M811.8 365.5C818.1 365.4 836.4 365.1 849.7 364.9C863.0 364.7 881.7 364.4 891.6 364.3C901.5 364.2 899.7 364.4 909.0 364.3C918.2 364.3 940.6 364.0 946.9 363.9C953.2 363.9 946.9 363.9 946.9 363.9"/>
<path class="bb" d="M970.9 363.5C979.7 363.4 1004.1 363.0 1023.8 362.9C1043.4 362.8 1073.9 363.1 1088.6 362.9C1103.3 362.8 1108.1 362.1 1112.0 361.9"/>
<path class="bb" d="M675.0 371.5C675.8 371.6 678.5 371.7 680.0 372.3C681.5 372.9 682.0 374.0 684.0 374.9C686.0 375.8 689.0 377.2 692.0 377.9C695.0 378.6 697.0 379.1 701.9 379.3C706.9 379.5 711.8 379.5 721.9 379.3C732.1 379.1 750.4 378.2 762.8 377.9C775.3 377.6 790.9 377.4 796.5 377.3"/>
<path class="bb" d="M813.0 376.9C819.1 376.8 836.6 376.2 849.7 375.9C862.8 375.6 881.7 375.3 891.6 375.1C901.5 374.9 901.5 375.1 909.0 374.9C916.4 374.7 926.5 374.1 936.5 373.9C946.5 373.7 954.3 373.5 968.9 373.5C983.4 373.5 1003.8 373.8 1023.8 373.9C1043.7 374.0 1073.9 374.1 1088.6 374.3C1103.3 374.5 1108.1 374.8 1112.0 374.9"/>
<path class="bb" d="M675.0 385.9C675.8 385.5 678.5 383.7 680.0 383.5C681.5 383.3 682.0 383.8 684.0 384.9C686.0 385.9 689.0 388.4 692.0 389.9C695.0 391.3 698.3 392.5 701.9 393.5C705.6 394.4 708.9 395.3 713.9 395.5C718.9 395.6 725.6 394.7 731.9 394.3C738.2 393.8 746.7 393.3 751.9 392.9C757.0 392.5 758.8 391.7 762.8 391.9C766.8 392.0 772.3 393.7 775.8 393.9C779.3 394.1 780.8 393.5 783.8 393.1C786.8 392.7 792.1 391.7 793.8 391.5"/>
<path class="bb" d="M675.0 394.3C675.8 393.7 678.5 390.8 680.0 390.9C681.5 391.0 682.6 392.7 684.0 394.9C685.3 397.0 686.6 400.7 688.0 403.8C689.3 407.0 690.5 410.8 692.0 413.8C693.5 416.8 696.0 419.2 697.0 421.8C698.0 424.5 698.0 426.8 698.0 429.8C698.0 432.8 697.3 436.8 697.0 439.8C696.6 442.8 696.3 444.6 696.0 447.9C695.6 451.3 695.5 454.6 695.0 459.9C694.5 465.3 694.1 472.6 693.0 479.9C691.8 487.2 689.8 496.5 688.0 503.8C686.1 511.2 683.6 517.2 682.0 523.8C680.3 530.5 678.7 540.4 678.0 543.8"/>
<path class="bb" d="M818.7 396.9C817.7 397.4 813.4 398.4 812.7 399.9C812.1 401.3 813.6 404.1 814.7 405.4C815.9 406.8 817.6 408.3 819.7 407.8C821.9 407.4 827.7 404.3 827.7 402.9C827.7 401.4 821.1 399.5 819.7 398.9"/>
<path class="bb" d="M811.7 399.9C809.8 401.2 803.1 405.8 799.8 407.8C796.4 409.8 794.1 410.6 791.8 411.8C789.5 413.1 787.8 415.3 785.8 415.4C783.8 415.6 782.1 412.8 779.8 412.8C777.5 412.9 774.1 414.3 771.8 415.8C769.5 417.3 768.5 419.8 765.8 421.8C763.2 423.8 759.8 426.1 755.8 427.8C751.9 429.5 745.5 430.6 741.9 431.8C738.2 433.0 735.7 433.5 733.9 434.8C732.1 436.1 731.7 438.6 731.3 439.8C730.9 441.0 731.0 441.1 731.3 442.0C731.6 442.8 732.0 445.1 732.9 445.0C733.8 444.8 735.6 441.3 736.9 441.0C738.2 440.6 739.4 442.2 740.9 443.0C742.4 443.7 743.4 445.7 745.9 445.6C748.4 445.5 752.2 443.0 755.8 442.4C759.5 441.8 764.5 441.9 767.8 442.0C771.2 442.1 774.0 442.9 775.8 443.0C777.6 443.0 778.3 442.5 778.8 442.4"/>
<path class="bb" d="M810.8 435.6C811.9 435.6 815.6 435.2 817.7 435.6C819.9 436.0 820.7 438.0 823.7 438.0C826.7 438.0 832.0 435.7 835.7 435.6C839.4 435.4 841.4 436.8 845.7 437.0C850.0 437.1 857.3 436.8 861.7 436.4C866.0 435.9 868.0 434.6 871.6 434.4C875.3 434.1 880.3 435.0 883.6 435.0C886.9 435.0 889.7 434.5 891.6 434.4C893.5 434.3 893.4 434.5 895.0 434.4C896.6 434.2 897.0 433.6 901.0 433.6C905.0 433.6 913.3 434.3 918.9 434.4C924.6 434.4 932.3 434.0 934.9 434.0"/>
<path class="bb" d="M968.9 435.0C972.2 435.1 979.7 435.6 988.8 435.6C998.0 435.5 1015.1 434.9 1023.8 434.6C1032.4 434.2 1034.9 433.5 1040.7 433.6C1046.5 433.6 1050.7 435.0 1058.7 435.0C1066.7 435.0 1083.2 433.8 1088.6 433.6C1094.1 433.3 1091.1 433.6 1091.6 433.6"/>
<path class="bb" d="M739.9 472.3C741.2 472.1 745.2 470.7 747.9 470.9C750.5 471.1 751.9 473.1 755.8 473.5C759.8 473.9 765.8 473.4 771.8 473.5C777.8 473.6 785.1 474.0 791.8 474.3C798.4 474.6 802.1 475.2 811.7 475.5C821.4 475.8 841.0 475.8 849.7 475.9C858.3 476.0 861.3 476.2 863.7 476.3"/>
<path class="bb" d="M897.0 477.3C903.6 477.3 921.2 477.4 936.5 477.3C951.8 477.2 976.1 477.1 988.8 476.9C1001.5 476.7 1007.8 476.0 1012.8 475.9C1017.8 475.8 1017.8 476.4 1018.8 476.5"/>
<path class="bb" d="M1054.7 477.3C1064.3 477.2 1102.4 477.0 1112.0 476.9"/>
<path class="bb" d="M723.9 488.5C730.4 488.3 741.9 487.6 762.8 487.5C783.8 487.4 832.1 487.8 849.7 487.9C867.3 487.9 865.4 487.9 868.6 487.9"/>
<path class="bb" d="M879.6 487.9C881.6 487.9 886.7 487.8 891.6 487.9C896.5 487.9 886.9 488.2 909.0 488.1C931.0 488.0 1004.3 487.4 1023.8 487.3C1043.2 487.1 1025.5 487.3 1025.8 487.3"/>
<path class="bb" d="M1034.7 487.3C1047.6 487.2 1099.1 487.1 1112.0 487.1"/>
<path class="bb" d="M739.9 498.9C743.7 498.7 742.2 498.0 762.8 497.9C783.5 497.7 846.9 497.9 863.7 497.9"/>
<path class="bb" d="M897.0 497.9C917.6 497.6 1000.2 496.7 1020.8 496.5"/>
<path class="bb" d="M1054.7 496.3C1064.2 496.2 1102.4 495.9 1112.0 495.9"/>
<path class="bb" d="M739.9 509.8C743.7 509.7 742.2 509.2 762.8 508.8C783.5 508.5 846.9 508.0 863.7 507.8"/>
<path class="bb" d="M897.0 508.2C917.6 508.1 1000.2 507.4 1020.8 507.3"/>
<path class="bb" d="M1054.7 507.1C1064.2 507.1 1102.4 506.9 1112.0 506.8"/>
<path class="bd" d="M705.9 476.9C703.9 478.4 697.3 480.7 694.0 485.9C690.6 491.0 688.3 498.2 686.0 507.8C683.6 517.5 681.0 537.8 680.0 543.8"/>
<path class="bd" d="M705.9 489.9C704.3 490.9 698.8 492.5 696.0 495.9C693.1 499.2 691.4 501.9 689.0 509.8C686.6 517.8 682.8 538.1 681.6 543.8"/>
<path class="bd" d="M705.9 501.9C704.6 502.5 700.4 503.2 698.0 505.8C695.5 508.5 693.5 511.5 691.0 517.8C688.5 524.1 684.3 539.5 683.0 543.8"/>
<path class="bd" d="M705.9 513.8C704.6 514.5 700.3 515.5 698.0 517.8C695.6 520.2 694.2 523.5 692.0 527.8C689.7 532.1 685.6 541.1 684.4 543.8"/>
<path class="bb" d="M676.0 515.8C676.3 517.8 677.3 523.1 678.0 527.8C678.7 532.5 679.7 541.1 680.0 543.8"/>
<path class="gr" d="M722.0 415.2C722.9 415.1 722.1 415.1 727.1 414.3C732.1 413.5 743.7 411.8 752.1 410.6C760.5 409.5 768.7 408.5 777.8 407.4C786.9 406.3 798.0 405.1 806.8 404.2C815.6 403.3 822.4 402.6 830.7 401.9C839.0 401.2 847.3 400.7 856.5 400.2C865.7 399.7 877.1 399.2 885.8 398.8C894.5 398.4 900.3 398.0 908.5 397.6C916.7 397.2 925.9 396.8 935.1 396.4C944.3 396.0 955.2 395.4 963.9 395.0C972.6 394.6 979.0 394.3 987.2 393.9C995.4 393.5 1003.9 393.0 1013.2 392.6C1022.5 392.2 1034.3 391.8 1043.1 391.5C1051.9 391.2 1057.9 391.1 1066.1 390.9C1074.2 390.7 1084.8 390.4 1092.0 390.3C1099.2 390.2 1106.6 390.1 1109.5 390.0" style="stroke-dashoffset:2.3;stroke-dasharray:12.9 13.39"/>
<ellipse class="mk" cx="722.1" cy="416.2" rx="2.1" ry="2.4"/>
<ellipse class="mk" cx="800.8" cy="405.6" rx="2.1" ry="2.4"/>
<ellipse class="mk" cx="879.2" cy="400.1" rx="2.1" ry="2.4"/>
<ellipse class="mk" cx="957.3" cy="396.3" rx="2.1" ry="2.4"/>
<ellipse class="mk" cx="1036.1" cy="392.9" rx="2.1" ry="2.4"/>
</g>
<line class="gd" x1="763.0" y1="324.0" x2="763.0" y2="541.2"/>
<line class="gd" x1="849.9" y1="324.0" x2="849.9" y2="541.2"/>
<line class="gd" x1="936.7" y1="324.0" x2="936.7" y2="541.2"/>
<line class="gd" x1="1023.6" y1="324.0" x2="1023.6" y2="541.2"/>
<line class="gd" x1="676.1" y1="468.8" x2="1110.5" y2="468.8"/>
<line class="gd" x1="676.1" y1="396.4" x2="1110.5" y2="396.4"/>
<line class="ax2" x1="763.0" y1="541.2" x2="763.0" y2="530.2"/>
<line class="ax2" x1="763.0" y1="324.0" x2="763.0" y2="335.0"/>
<line class="ax2" x1="849.9" y1="541.2" x2="849.9" y2="530.2"/>
<line class="ax2" x1="849.9" y1="324.0" x2="849.9" y2="335.0"/>
<line class="ax2" x1="936.7" y1="541.2" x2="936.7" y2="530.2"/>
<line class="ax2" x1="936.7" y1="324.0" x2="936.7" y2="335.0"/>
<line class="ax2" x1="1023.6" y1="541.2" x2="1023.6" y2="530.2"/>
<line class="ax2" x1="1023.6" y1="324.0" x2="1023.6" y2="335.0"/>
<line class="ax2" x1="676.1" y1="519.4" x2="682.1" y2="519.4"/>
<line class="ax2" x1="1110.5" y1="519.4" x2="1104.5" y2="519.4"/>
<line class="ax2" x1="676.1" y1="506.7" x2="682.1" y2="506.7"/>
<line class="ax2" x1="1110.5" y1="506.7" x2="1104.5" y2="506.7"/>
<line class="ax2" x1="676.1" y1="497.6" x2="682.1" y2="497.6"/>
<line class="ax2" x1="1110.5" y1="497.6" x2="1104.5" y2="497.6"/>
<line class="ax2" x1="676.1" y1="490.6" x2="682.1" y2="490.6"/>
<line class="ax2" x1="1110.5" y1="490.6" x2="1104.5" y2="490.6"/>
<line class="ax2" x1="676.1" y1="484.9" x2="682.1" y2="484.9"/>
<line class="ax2" x1="1110.5" y1="484.9" x2="1104.5" y2="484.9"/>
<line class="ax2" x1="676.1" y1="480.0" x2="682.1" y2="480.0"/>
<line class="ax2" x1="1110.5" y1="480.0" x2="1104.5" y2="480.0"/>
<line class="ax2" x1="676.1" y1="475.8" x2="682.1" y2="475.8"/>
<line class="ax2" x1="1110.5" y1="475.8" x2="1104.5" y2="475.8"/>
<line class="ax2" x1="676.1" y1="472.1" x2="682.1" y2="472.1"/>
<line class="ax2" x1="1110.5" y1="472.1" x2="1104.5" y2="472.1"/>
<line class="ax2" x1="676.1" y1="468.8" x2="687.1" y2="468.8"/>
<line class="ax2" x1="1110.5" y1="468.8" x2="1099.5" y2="468.8"/>
<line class="ax2" x1="676.1" y1="447.0" x2="682.1" y2="447.0"/>
<line class="ax2" x1="1110.5" y1="447.0" x2="1104.5" y2="447.0"/>
<line class="ax2" x1="676.1" y1="434.3" x2="682.1" y2="434.3"/>
<line class="ax2" x1="1110.5" y1="434.3" x2="1104.5" y2="434.3"/>
<line class="ax2" x1="676.1" y1="425.2" x2="682.1" y2="425.2"/>
<line class="ax2" x1="1110.5" y1="425.2" x2="1104.5" y2="425.2"/>
<line class="ax2" x1="676.1" y1="418.2" x2="682.1" y2="418.2"/>
<line class="ax2" x1="1110.5" y1="418.2" x2="1104.5" y2="418.2"/>
<line class="ax2" x1="676.1" y1="412.5" x2="682.1" y2="412.5"/>
<line class="ax2" x1="1110.5" y1="412.5" x2="1104.5" y2="412.5"/>
<line class="ax2" x1="676.1" y1="407.6" x2="682.1" y2="407.6"/>
<line class="ax2" x1="1110.5" y1="407.6" x2="1104.5" y2="407.6"/>
<line class="ax2" x1="676.1" y1="403.4" x2="682.1" y2="403.4"/>
<line class="ax2" x1="1110.5" y1="403.4" x2="1104.5" y2="403.4"/>
<line class="ax2" x1="676.1" y1="399.7" x2="682.1" y2="399.7"/>
<line class="ax2" x1="1110.5" y1="399.7" x2="1104.5" y2="399.7"/>
<line class="ax2" x1="676.1" y1="396.4" x2="687.1" y2="396.4"/>
<line class="ax2" x1="1110.5" y1="396.4" x2="1099.5" y2="396.4"/>
<line class="ax2" x1="676.1" y1="374.6" x2="682.1" y2="374.6"/>
<line class="ax2" x1="1110.5" y1="374.6" x2="1104.5" y2="374.6"/>
<line class="ax2" x1="676.1" y1="361.9" x2="682.1" y2="361.9"/>
<line class="ax2" x1="1110.5" y1="361.9" x2="1104.5" y2="361.9"/>
<line class="ax2" x1="676.1" y1="352.8" x2="682.1" y2="352.8"/>
<line class="ax2" x1="1110.5" y1="352.8" x2="1104.5" y2="352.8"/>
<line class="ax2" x1="676.1" y1="345.8" x2="682.1" y2="345.8"/>
<line class="ax2" x1="1110.5" y1="345.8" x2="1104.5" y2="345.8"/>
<line class="ax2" x1="676.1" y1="340.1" x2="682.1" y2="340.1"/>
<line class="ax2" x1="1110.5" y1="340.1" x2="1104.5" y2="340.1"/>
<line class="ax2" x1="676.1" y1="335.2" x2="682.1" y2="335.2"/>
<line class="ax2" x1="1110.5" y1="335.2" x2="1104.5" y2="335.2"/>
<line class="ax2" x1="676.1" y1="331.0" x2="682.1" y2="331.0"/>
<line class="ax2" x1="1110.5" y1="331.0" x2="1104.5" y2="331.0"/>
<line class="ax2" x1="676.1" y1="327.3" x2="682.1" y2="327.3"/>
<line class="ax2" x1="1110.5" y1="327.3" x2="1104.5" y2="327.3"/>
<rect class="boxb" x="676.1" y="324.0" width="434.4" height="217.2"/>
<text class="tk" x="632.1" y="550.6">10<tspan class="sup" dy="-9.4" dx="-0.2">0</tspan></text>
<text class="tk" x="632.1" y="478.2">10<tspan class="sup" dy="-9.4" dx="-0.2">1</tspan></text>
<text class="tk" x="632.1" y="405.8">10<tspan class="sup" dy="-9.4" dx="-0.2">2</tspan></text>
<text class="tk" x="632.1" y="333.4">10<tspan class="sup" dy="-9.4" dx="-0.2">3</tspan></text>
<text class="tk" text-anchor="middle" x="676.4" y="569.7">0</text>
<text class="tk" text-anchor="middle" x="763.3" y="569.7">1</text>
<text class="tk" text-anchor="middle" x="850.2" y="569.7">2</text>
<text class="tk" text-anchor="middle" x="937.0" y="569.7">3</text>
<text class="tk" text-anchor="middle" x="1023.9" y="569.7">4</text>
<text class="tk" text-anchor="middle" x="1110.8" y="569.7">5</text>
</g>
<text class="lb" y="336.2"><tspan class="rm" x="580.7">(</tspan><tspan x="590.7">c</tspan><tspan class="rm" x="604.3">)</tspan></text>
<text class="lb" y="608.1"><tspan class="rm" x="826.5">(</tspan><tspan x="836.5">x</tspan><tspan x="887.3">x</tspan><tspan class="sub" x="900.6" dy="4.2">RS</tspan><tspan class="rm" x="923.2" dy="-4.2">)</tspan><tspan x="947.9">h</tspan></text>
<text class="mn" x="857.4" y="613.0">−</text>
<text class="sl" x="935.4" y="613.3">/</text>
</svg>
</body></html>
